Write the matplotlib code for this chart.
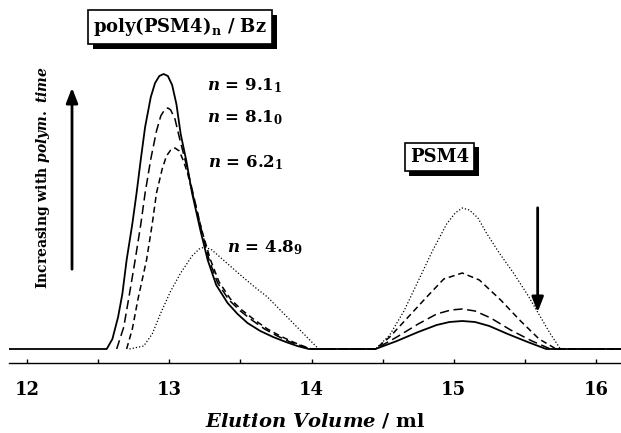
import matplotlib
matplotlib.use("Agg")
import matplotlib.pyplot as plt
import matplotlib.patheffects as pe

plt.rcParams['font.family'] = ['DejaVu Serif']
plt.rcParams['font.weight'] = 'bold'
plt.rcParams['mathtext.fontset'] = 'custom'
plt.rcParams['mathtext.rm'] = 'DejaVu Serif:bold'
plt.rcParams['mathtext.it'] = 'DejaVu Serif:italic:bold'
plt.rcParams['mathtext.bf'] = 'DejaVu Serif:bold'

# GPC traces (elution volume in ml, detector signal in arbitrary units)
vol_91 = [11.87, 12.56, 12.60, 12.64, 12.67, 12.70, 12.74, 12.77, 12.80, 12.83, 12.87, 12.90,
          12.93, 12.96, 12.99, 13.02, 13.05, 13.08, 13.12, 13.16, 13.22, 13.27, 13.33, 13.41,
          13.48, 13.55, 13.64, 13.73, 13.82, 13.90, 13.98, 14.45, 14.60, 14.75, 14.88, 14.97,
          15.06, 15.15, 15.25, 15.38, 15.52, 15.65, 16.18]
sig_91 = [0, 0, 10, 32, 55, 89, 125, 156, 190, 222, 252, 266,
          273, 275, 273, 264, 245, 215, 188, 156, 118, 89, 64, 46,
          35, 26, 18, 12, 7, 3, 0, 0, 8, 17, 24, 27,
          28, 27, 23, 15, 7, 0, 0]

vol_81 = [12.63, 12.68, 12.72, 12.76, 12.80, 12.83, 12.87, 12.91, 12.94, 12.97, 12.99, 13.01,
          13.04, 13.07, 13.12, 13.17, 13.23, 13.28, 13.34, 13.42, 13.50, 13.58, 13.67, 13.76,
          13.85, 13.93, 13.99, 14.45, 14.60, 14.75, 14.88, 14.98, 15.06, 15.15, 15.26, 15.40,
          15.55, 15.68, 16.18]
sig_81 = [0, 22, 55, 89, 125, 156, 190, 218, 233, 240, 241, 239,
          230, 212, 184, 154, 117, 89, 66, 49, 38, 29, 20, 13,
          7, 3, 0, 0, 12, 25, 35, 39, 40, 38, 31, 19,
          8, 0, 0]

vol_62 = [12.70, 12.74, 12.78, 12.84, 12.88, 12.91, 12.95, 12.98, 13.01, 13.04, 13.07, 13.10,
          13.13, 13.17, 13.23, 13.29, 13.35, 13.43, 13.51, 13.60, 13.69, 13.78, 13.87, 13.94,
          14.00, 14.45, 14.55, 14.68, 14.81, 14.93, 15.06, 15.18, 15.33, 15.47, 15.60, 15.72,
          16.18]
sig_62 = [0, 20, 50, 89, 125, 156, 180, 193, 199, 201, 198, 188,
          175, 152, 118, 89, 67, 50, 39, 29, 20, 13, 7, 3,
          0, 0, 12, 32, 52, 70, 76, 69, 49, 28, 10, 0,
          0]

vol_48 = [12.72, 12.82, 12.88, 12.94, 13.01, 13.08, 13.16, 13.21, 13.25, 13.30, 13.38, 13.50,
          13.60, 13.69, 13.78, 13.87, 13.96, 14.05, 14.45, 14.55, 14.65, 14.75, 14.85, 14.95,
          15.01, 15.06, 15.11, 15.17, 15.23, 15.32, 15.42, 15.52, 15.61, 15.68, 15.75, 16.18]
sig_48 = [0, 3, 15, 36, 58, 76, 93, 100, 102, 99, 89, 74,
          62, 52, 39, 26, 13, 0, 0, 14, 38, 68, 98, 125,
          136, 141, 139, 131, 116, 96, 76, 54, 32, 15, 0, 0]

n_labels = [r"$n$ = 9.1$_1$", r"$n$ = 8.1$_0$", r"$n$ = 6.2$_1$", r"$n$ = 4.8$_9$"]
tick_vals = [12, 13, 14, 15, 16]

fig = plt.figure(figsize=(6.21, 4.33), dpi=100)
ax = fig.add_axes([9 / 621, 70 / 433, 612 / 621, 363 / 433])

ax.plot(vol_48, sig_48, color='k', lw=0.9, linestyle=(0, (1, 1.6)))
ax.plot(vol_62, sig_62, color='k', lw=1.1, linestyle=(0, (4, 2.5)))
ax.plot(vol_81, sig_81, color='k', lw=1.1, linestyle=(0, (6, 3)))
ax.plot(vol_91, sig_91, color='k', lw=1.3)

ax.set_xlim(11.873, 16.176)
ax.set_ylim(-14, 349)

for s in ['top', 'left', 'right']:
    ax.spines[s].set_visible(False)
ax.spines['bottom'].set_linewidth(1.0)
ax.set_yticks([])
ax.set_xticks(tick_vals)
ax.set_xticklabels([str(t) for t in tick_vals])
ax.set_xticks([12.5, 13.5, 14.5, 15.5], minor=True)
ax.tick_params(axis='x', which='both', direction='in', length=3, width=1.0,
               labelsize=13, pad=13)
ax.set_xlabel(r"$Elution\ Volume$ / ml", fontsize=14, fontweight='bold', labelpad=9)

# labels for each trace
ax.text(13.265, 263, n_labels[0], fontsize=12, va='center', ha='left')
ax.text(13.265, 231, n_labels[1], fontsize=12, va='center', ha='left')
ax.text(13.27, 186, n_labels[2], fontsize=12, va='center', ha='left')
ax.text(13.406, 101, n_labels[3], fontsize=12, va='center', ha='left')

shadow = [pe.withSimplePatchShadow(offset=(3.5, -3.5), shadow_rgbFace='k', alpha=1.0)]
t1 = ax.text(13.076, 322, r"poly(PSM4)$_\mathrm{n}$ / Bz", fontsize=13, ha='center', va='center',
             bbox=dict(boxstyle='square,pad=0.3', fc='white', ec='k', lw=1.2))
t1.get_bbox_patch().set_path_effects(shadow)
t2 = ax.text(14.90, 192, "PSM4", fontsize=13, ha='center', va='center',
             bbox=dict(boxstyle='square,pad=0.3', fc='white', ec='k', lw=1.2))
t2.get_bbox_patch().set_path_effects(shadow)

# arrows
ax.annotate('', xy=(12.316, 264), xytext=(12.316, 77),
            arrowprops=dict(arrowstyle='-|>,head_width=0.35,head_length=0.9', color='k', lw=2))
ax.annotate('', xy=(15.59, 34), xytext=(15.59, 144),
            arrowprops=dict(arrowstyle='-|>,head_width=0.35,head_length=0.9', color='k', lw=2))
ax.text(12.112, 171, r"Increasing with $polym.\ time$", fontsize=10, rotation=90,
        ha='center', va='center')

fig.savefig("out.png", dpi=100)
